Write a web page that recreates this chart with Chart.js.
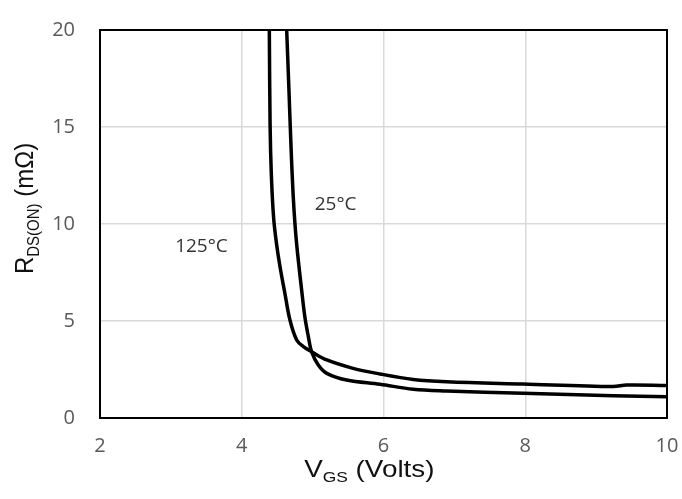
<!DOCTYPE html>
<html>
<head>
<meta charset="utf-8">
<script src="https://cdn.jsdelivr.net/npm/chart.js@4.4.1/dist/chart.umd.min.js"></script>
<style>
  body { margin: 0; background: #fff; }
  #wrap { width: 682px; height: 499px; position: relative; }
</style>
</head>
<body>
<div id="wrap"><canvas id="myChart"></canvas></div>
<script>
// RDS(ON) vs VGS
const vgs125 = [4.389, 4.40, 4.418, 4.45, 4.49, 4.54, 4.61, 4.68, 4.775, 4.87, 4.985, 5.20, 5.57, 5.95, 6.42, 6.89, 7.97, 9.24, 9.43, 10];
const rds125 = [20, 15.1, 12.5, 10.3, 9.0, 7.8, 6.4, 5.05, 4.02, 3.68, 3.42, 2.99, 2.56, 2.27, 1.99, 1.87, 1.75, 1.62, 1.70, 1.68];

const vgs25 = [4.634, 4.665, 4.695, 4.725, 4.755, 4.79, 4.845, 4.89, 4.94, 4.985, 5.08, 5.20, 5.48, 5.95, 6.42, 6.89, 7.97, 9.24, 10];
const rds25 = [20, 17, 14, 11.5, 9.8, 8.4, 6.6, 5.22, 4.19, 3.42, 2.73, 2.30, 1.96, 1.74, 1.48, 1.39, 1.27, 1.15, 1.10];

const xTicks = [2, 4, 6, 8, 10];
const yTicks = [0, 5, 10, 15, 20];
const curveNames = ['125°C', '25°C'];

const toPoints = (xs, ys) => xs.map((x, i) => ({x: x, y: ys[i]}));

// frame, axis titles with subscripts, curve labels
const decor = {
	id: 'decor',
	afterDatasetsDraw: (chart) => {
		const ctx = chart.ctx;
		const a = chart.chartArea;
		const sx = chart.scales.x, sy = chart.scales.y;

		ctx.save();
		ctx.strokeStyle = '#000';
		ctx.lineWidth = 2;
		ctx.strokeRect(a.left, a.top, a.right - a.left, a.bottom - a.top);

		// curve labels
		ctx.fillStyle = '#333';
		ctx.font = '19px "Open Sans"';
		ctx.textAlign = 'left';
		ctx.textBaseline = 'alphabetic';
		ctx.fillText(curveNames[0], sx.getPixelForValue(3.06), sy.getPixelForValue(8.56));
		ctx.fillText(curveNames[1], sx.getPixelForValue(5.03), sy.getPixelForValue(10.72));
		ctx.restore();

		const big = '24px "Liberation Sans"', small = '15px "Liberation Sans"';
		const parts = (main, sub, rest) => {
			ctx.font = big;
			const w1 = ctx.measureText(main).width, w3 = ctx.measureText(rest).width;
			ctx.font = small;
			const w2 = ctx.measureText(sub).width;
			return [w1, w2, w3];
		};
		const drawTitle = (main, sub, rest) => {
			const w = parts(main, sub, rest);
			let x = -(w[0] + w[1] + w[2]) / 2;
			ctx.font = big;
			ctx.fillText(main, x, 0);
			x += w[0];
			ctx.font = small;
			ctx.fillText(sub, x, 5);
			x += w[1];
			ctx.font = big;
			ctx.fillText(rest, x, 0);
		};

		ctx.save();
		ctx.fillStyle = '#111';
		ctx.textAlign = 'left';
		ctx.textBaseline = 'alphabetic';
		// x title
		ctx.save();
		ctx.translate(sx.getPixelForValue(5.8), 477);
		ctx.scale(1.16, 1);
		drawTitle('V', 'GS', ' (Volts)');
		ctx.restore();
		// y title
		ctx.save();
		ctx.translate(33, sy.getPixelForValue(10.8));
		ctx.scale(1.1, 1);
		ctx.rotate(-Math.PI / 2);
		drawTitle('R', 'DS(ON)', ' (mΩ)');
		ctx.restore();
		ctx.restore();
	}
};

const lineStyle = {
	borderColor: '#000',
	borderWidth: 3.5,
	pointRadius: 0,
	showLine: true,
	fill: false,
	tension: 0.35
};

const config = {
	type: 'scatter',
	data: {
		datasets: [
			Object.assign({label: curveNames[0], data: toPoints(vgs125, rds125)}, lineStyle),
			Object.assign({label: curveNames[1], data: toPoints(vgs25, rds25)}, lineStyle)
		]
	},
	plugins: [decor],
	options: {
		responsive: true,
		maintainAspectRatio: false,
		animation: false,
		layout: {padding: {top: 30, right: 15, left: 0, bottom: 0}},
		scales: {
			x: {
				type: 'linear',
				min: 2,
				max: 10,
				afterBuildTicks: (scale) => { scale.ticks = xTicks.map(v => ({value: v})); },
				afterFit: (scale) => {
					scale.height = 81;
					scale.paddingLeft = 0;
					scale.paddingRight = 0;
				},
				ticks: {
					color: '#595959',
					font: {family: 'Open Sans', size: 20},
					padding: 16
				},
				grid: {color: '#d9d9d9', lineWidth: 1.5, drawTicks: false},
				border: {display: true, color: '#000', width: 2}
			},
			y: {
				min: 0,
				max: 20,
				afterBuildTicks: (scale) => { scale.ticks = yTicks.map(v => ({value: v})); },
				afterFit: (scale) => {
					scale.width = 100;
					scale.paddingTop = 0;
					scale.paddingBottom = 0;
				},
				ticks: {
					color: '#595959',
					font: {family: 'Open Sans', size: 20},
					padding: 25
				},
				grid: {color: '#d9d9d9', lineWidth: 1.5, drawTicks: false},
				border: {display: true, color: '#000', width: 2}
			}
		},
		plugins: {
			legend: {display: false},
			tooltip: {enabled: false},
			title: {display: false}
		}
	}
};

const myChart = new Chart(document.getElementById('myChart'), config);
</script>
</body>
</html>
